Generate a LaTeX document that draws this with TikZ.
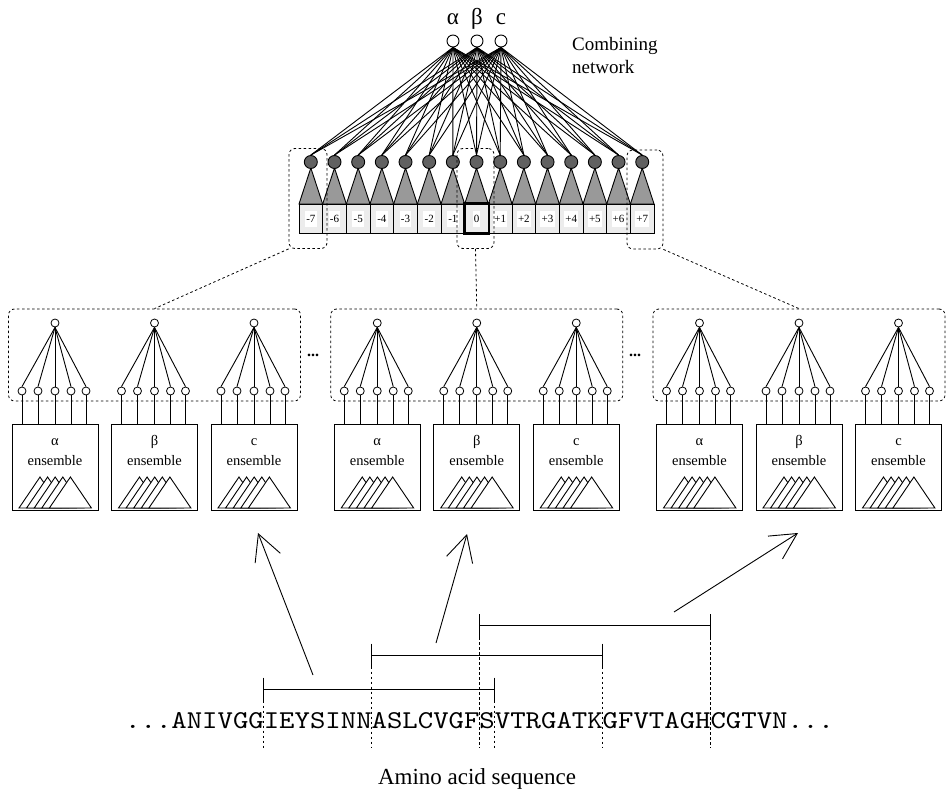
\documentclass[tikz,border=0pt]{standalone}
\usepackage{fontspec}
\setmainfont{Liberation Serif}
\newfontfamily\seqfont[FakeStretch=1.143]{lmmono10-regular.otf}
\usetikzlibrary{arrows.meta}
\definecolor{cdark}{gray}{0.38}
\definecolor{cmid}{gray}{0.6}
\definecolor{clight}{gray}{0.925}
\tikzset{
  ln/.style={line width=0.9bp},
  outc/.style={circle, draw, fill=white, line width=0.9bp, minimum size=12bp, inner sep=0pt},
  grayc/.style={circle, draw, fill=cdark, line width=0.9bp, minimum size=13bp, inner sep=0pt},
  smallc/.style={circle, draw, fill=white, line width=0.8bp, minimum size=8bp, inner sep=0pt},
  cell/.style={draw, fill=clight, line width=0.9bp, minimum width=23.67bp, minimum height=29bp, inner sep=0pt},
  celllab/.style={fill=white, inner xsep=1.2bp, inner ysep=0pt, minimum height=16bp, font=\fontsize{11bp}{11bp}\selectfont},
  dbox/.style={draw, dash pattern=on 2.5bp off 2.5bp, line width=0.8bp, rounded corners=6bp, inner sep=0pt},
  dline/.style={dash pattern=on 2.5bp off 2.5bp, line width=0.8bp},
  ens/.style={draw, line width=0.9bp, minimum width=86bp, minimum height=86bp, inner sep=0pt},
  lbl/.style={inner sep=0pt, anchor=base, font=\fontsize{23bp}{23bp}\selectfont},
  enstxt/.style={inner sep=0pt, anchor=base, font=\fontsize{14.5bp}{14.5bp}\selectfont},
  arr/.style={line width=0.9bp, -{Straight Barb[length=26bp, width=27bp]}},
}
\begin{document}
\begin{tikzpicture}[x=1bp, y=-1bp]
\useasboundingbox (0,0) rectangle (947,800);

% ---------- combining network ----------
\node[outc] (oa) at (453,41) {};
\node[outc] (ob) at (477,41) {};
\node[outc] (oc) at (501,41) {};
\node[lbl] (la) at (453,25) {α};
\node[lbl] (lb) at (477,25) {β};
\node[lbl] (lc) at (501,25) {c};
\node[anchor=base west, inner sep=0pt, font=\fontsize{19bp}{19bp}\selectfont] (cn1) at (572,51) {Combining};
\node[anchor=base west, inner sep=0pt, font=\fontsize{19bp}{19bp}\selectfont] (cn2) at (572,74) {network};

\foreach \ii/\lb in {0/-7,1/-6,2/-5,3/-4,4/-3,5/-2,6/-1,7/0,8/+1,9/+2,10/+3,11/+4,12/+5,13/+6,14/+7} {
  \pgfmathsetmacro\bx{299+\ii*23.67}
  \pgfmathsetmacro\cx{\bx+11.835}
  \filldraw[fill=cmid, ln] (\bx,204) -- (\cx,168) -- (\bx+23.67,204) -- cycle;
  \node[cell] (b\ii) at (\cx,218.5) {};
  \node[celllab] (bl\ii) at (b\ii) {\lb};
  \node[grayc] (g\ii) at (\cx,162) {};
}
\draw[line width=2.6bp] (b7.south west) rectangle (b7.north east);

\foreach \o in {oa,ob,oc} {
  \foreach \ii in {0,...,14} {
    \draw[ln] (\o.south) -- (g\ii.north);
  }
}

\node[dbox, minimum width=38bp, minimum height=100bp] (d1) at (308,198.5) {};
\node[dbox, minimum width=37bp, minimum height=100bp] (d2) at (475.5,198.5) {};
\node[dbox, minimum width=36bp, minimum height=99bp] (d3) at (645,199.5) {};

% ---------- ensemble groups ----------
\foreach \kk in {0,1,2} {
  \pgfmathsetmacro\gx{154.5+322.25*\kk}
  \node[dbox, minimum width=292bp, minimum height=92bp] (G\kk) at (\gx,355) {};
  \foreach \mm/\tx in {0/α,1/β,2/c} {
    \pgfmathsetmacro\sx{\gx+(\mm-1)*99.5}
    \node[smallc] (t\kk\mm) at (\sx,323) {};
    \node[ens] (e\kk\mm) at (\sx,467) {};
    \node[enstxt] (h\kk\mm) at (\sx,445) {\tx};
    \node[enstxt] (n\kk\mm) at (\sx,465) {ensemble};
    \foreach \jj/\dd in {0/-33,1/-17,2/0,3/16,4/31} {
      \node[smallc] (c\kk\mm\jj) at (\sx+\dd,391) {};
      \draw[ln] (t\kk\mm.south) -- (c\kk\mm\jj.north);
      \draw[ln] (c\kk\mm\jj.south) -- (c\kk\mm\jj.south |- e\kk\mm.north);
    }
    \foreach \jj in {0,...,4} {
      \pgfmathsetmacro\ax{\sx-15+7.6*\jj}
      \filldraw[fill=white, ln] (\ax-21,508) -- (\ax,477) -- (\ax+21,508) -- cycle;
    }
  }
}

\draw[dline] (d1.south west) -- (G0.north);
\draw[dline] (d2.south) -- (G1.north);
\draw[dline] (d3.south east) -- (G2.north);

\node[inner sep=0pt, font=\bfseries\fontsize{16bp}{16bp}\selectfont] (dots1) at (313,355) {...};
\node[inner sep=0pt, font=\bfseries\fontsize{16bp}{16bp}\selectfont] (dots2) at (635,355) {...};

% ---------- sequence ----------
\node[anchor=base west, inner sep=0pt, font=\seqfont\fontsize{25.67bp}{25.67bp}\selectfont] (seq) at (125,728) {...ANIVGGIEYSINNASLCVGFSVTRGATKGFVTAGHCGTVN...};

\foreach \ia/\ib/\yy in {9/24/689, 16/31/655, 23/38/625.5} {
  \pgfmathsetmacro\xa{125+15.4*\ia}
  \pgfmathsetmacro\xb{125+15.4*\ib}
  \draw[ln] (\xa,\yy) -- (\xb,\yy);
  \draw[ln] (\xa,\yy-11.5) -- (\xa,\yy+11.5);
  \draw[ln] (\xb,\yy-11.5) -- (\xb,\yy+11.5);
  \draw[dline] (\xa,\yy+11.5) -- (\xa,748);
  \draw[dline] (\xb,\yy+11.5) -- (\xb,748);
}

\coordinate (a1s) at (313,675); \coordinate (a1e) at (258,533);
\coordinate (a2s) at (436,643); \coordinate (a2e) at (467,534);
\coordinate (a3s) at (674,612); \coordinate (a3e) at (798,533);
\draw[arr] (a1s) -- (a1e);
\draw[arr] (a2s) -- (a2e);
\draw[arr] (a3s) -- (a3e);

\node[anchor=base, inner sep=0pt, font=\fontsize{23bp}{23bp}\selectfont] (amino) at (477,784) {Amino acid sequence};
\end{tikzpicture}
\end{document}
